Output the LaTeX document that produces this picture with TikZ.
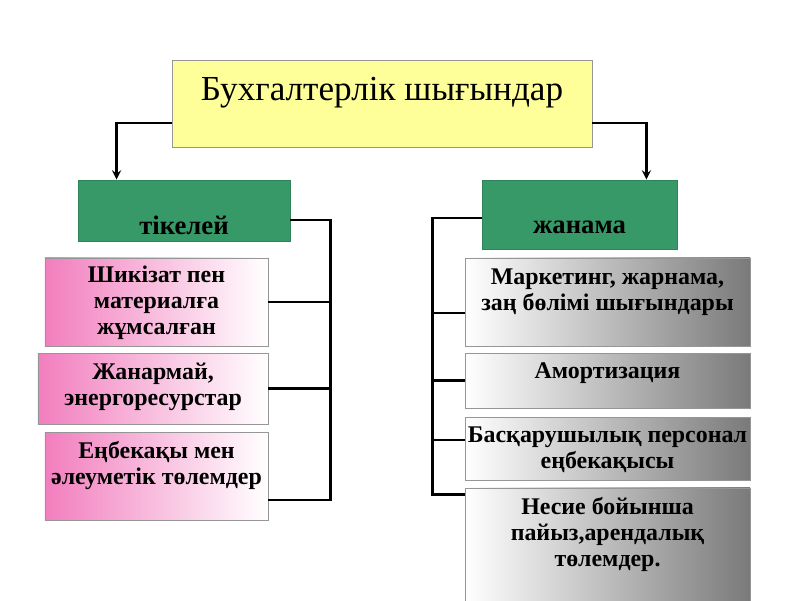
\documentclass[tikz,border=0pt]{standalone}
\usepackage{fontspec}
\setmainfont{Liberation Serif}
\usepackage{tikz}

\definecolor{headyellow}{RGB}{255,255,153}
\definecolor{grpgreen}{RGB}{56,153,104}
\definecolor{dirpink}{RGB}{242,126,190}
\definecolor{indgray}{RGB}{122,122,122}
\definecolor{edgegray}{RGB}{150,150,150}

\begin{document}
\begin{tikzpicture}[
  x=0.025cm, y=-0.025cm, >=stealth,
  blk/.style={draw=edgegray, line width=0.6pt, inner sep=0pt},
  head/.style={blk, fill=headyellow},
  grp/.style={blk, fill=grpgreen, draw=grpgreen!85!black},
  dirb/.style={blk, left color=dirpink, right color=white},
  indb/.style={blk, left color=white, right color=indgray},
  txt/.style={align=center, inner sep=0pt, font=\bfseries\fontsize{17}{18.5}\selectfont},
  conn/.style={line width=1.9pt}]
  \fill[white] (0,0) rectangle (800,600);
  \useasboundingbox (0,0) rectangle (800,600);
  % Head
  \node[head, minimum width=10.5cm, minimum height=2.175cm,
    label={[inner sep=0pt, font=\fontsize{25}{25}\selectfont, yshift=0.26cm]center:Бухгалтерлік шығындар}] (top) at (382,103.5) {};
  % Groups
  \node[grp, minimum width=5.3cm, minimum height=1.525cm,
    label={[txt, font=\bfseries\fontsize{19}{19}\selectfont, yshift=-0.36cm]center:тікелей}] (dir) at (184,210.5) {};
  \node[grp, minimum width=4.875cm, minimum height=1.725cm,
    label={[txt, font=\bfseries\fontsize{19}{19}\selectfont, yshift=-0.31cm]center:жанама}] (indir) at (579.5,214.5) {};
  % Direct costs
  \node[dirb, minimum width=5.575cm, minimum height=2.2cm,
    label={[txt, yshift=-0.02cm]center:{Шикізат пен\\материалға\\жұмсалған}}] (d1) at (156.5,302) {};
  \node[dirb, minimum width=5.75cm, minimum height=1.775cm,
    label={[txt, yshift=0.05cm]center:{Жанармай,\\энергоресурстар}}] (d2) at (153,388.5) {};
  \node[dirb, minimum width=5.575cm, minimum height=2.2cm,
    label={[txt, yshift=0.26cm]center:{Еңбекақы мен\\әлеуметік төлемдер}}] (d3) at (156.5,476) {};
  % Indirect costs
  \node[indb, minimum width=7.125cm, minimum height=2.2cm,
    label={[txt, yshift=0.24cm]center:{Маркетинг, жарнама,\\заң бөлімі шығындары}}] (i1) at (607.5,302) {};
  \node[indb, minimum width=7.125cm, minimum height=1.375cm,
    label={[txt, yshift=0.19cm]center:{Амортизация}}] (i2) at (607.5,380.5) {};
  \node[indb, minimum width=7.125cm, minimum height=1.575cm,
    label={[txt, yshift=-0.02cm]center:{Басқарушылық персонал\\еңбекақысы}}] (i3) at (607.5,448.5) {};
  \node[indb, minimum width=7.125cm, minimum height=2.95cm,
    label={[txt, yshift=0.32cm]center:{Несие бойынша\\пайыз,арендалық\\төлемдер.}}] (i4) at (607.5,547) {};
  % Head to groups
  \draw[conn, ->] ([yshift=-0.49cm]top.west) -| ([xshift=0.975cm]dir.north west);
  \draw[conn, ->] ([yshift=-0.49cm]top.east) -| ([xshift=-0.775cm]indir.north east);
  % Left bus
  \draw[conn] ([yshift=-0.24cm]dir.east) -- ++(1cm,0) |- ([yshift=-0.6cm]d3.east);
  \draw[conn] (d1.east) -- ++(1.55cm,0);
  \draw[conn] (d2.east) -- ++(1.55cm,0);
  % Right bus
  \draw[conn] ([yshift=-0.09cm]indir.west) -- ++(-1.225cm,0) |- ([yshift=-0.175cm]i4.north west);
  \draw[conn] ([yshift=-0.275cm]i1.west) -- ++(-0.8cm,0);
  \draw[conn] (i2.west) -- ++(-0.8cm,0);
  \draw[conn] ([yshift=0.21cm]i3.west) -- ++(-0.8cm,0);
\end{tikzpicture}
\end{document}
